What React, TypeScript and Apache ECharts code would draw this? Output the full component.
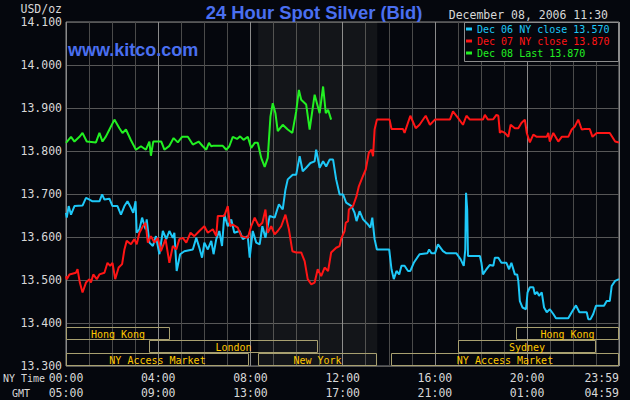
import React, { useEffect, useRef } from "react";
import * as echarts from "echarts";

// ---- data (minutes after 00:00 NY time, USD/oz) ----
const cyanName = "Dec 06 NY close 13.570";
const redName = "Dec 07 NY close 13.870";
const greenName = "Dec 08 Last 13.870";

const cyanTimes = [0,2,7,13,22,43,52,61,69,87,94,100,113,121,134,143,152,160,169,175,181,184,191,198,207,210,217,226,234,243,252,261,269,278,282,288,297,308,330,339,347,354,360,369,378,384,391,399,406,412,421,430,438,452,460,473,478,486,495,504,511,519,530,543,554,564,571,577,590,599,608,616,625,636,647,651,660,669,677,686,695,703,712,721,729,743,751,756,764,773,786,792,797,803,809,841,847,853,860,867,873,881,890,896,905,920,940,945,951,960,968,981,990,1016,1027,1035,1039,1041,1044,1046,1077,1081,1085,1094,1103,1112,1116,1125,1133,1146,1153,1159,1168,1174,1177,1181,1188,1197,1201,1207,1216,1220,1226,1231,1238,1244,1251,1259,1268,1275,1307,1316,1327,1336,1355,1359,1365,1372,1379,1400,1407,1415,1420,1429,1439];
const cyanValues = [13.656,13.645,13.672,13.652,13.672,13.673,13.691,13.687,13.683,13.683,13.699,13.687,13.689,13.672,13.672,13.652,13.672,13.683,13.668,13.656,13.683,13.610,13.618,13.645,13.618,13.641,13.587,13.579,13.602,13.560,13.614,13.595,13.614,13.598,13.610,13.521,13.560,13.567,13.571,13.598,13.575,13.552,13.587,13.571,13.591,13.560,13.595,13.614,13.579,13.652,13.625,13.641,13.610,13.614,13.595,13.602,13.552,13.614,13.587,13.583,13.625,13.598,13.649,13.645,13.676,13.664,13.710,13.734,13.745,13.745,13.788,13.753,13.761,13.772,13.776,13.803,13.761,13.776,13.764,13.780,13.780,13.734,13.699,13.699,13.680,13.672,13.656,13.637,13.660,13.641,13.629,13.622,13.645,13.595,13.571,13.571,13.525,13.502,13.521,13.513,13.533,13.533,13.521,13.521,13.540,13.560,13.562,13.571,13.562,13.562,13.583,13.567,13.562,13.562,13.548,13.533,13.571,13.703,13.664,13.556,13.556,13.540,13.513,13.525,13.535,13.533,13.552,13.552,13.540,13.540,13.525,13.540,13.513,13.513,13.498,13.451,13.436,13.432,13.471,13.483,13.483,13.467,13.472,13.463,13.471,13.436,13.425,13.432,13.421,13.411,13.411,13.425,13.441,13.425,13.425,13.409,13.409,13.421,13.440,13.440,13.451,13.451,13.486,13.498,13.502];

const redTimes = [0,2,9,26,30,36,43,52,61,65,71,80,87,100,108,115,121,128,137,146,152,158,169,178,184,191,200,207,213,221,230,239,247,259,269,278,287,295,304,313,324,334,347,360,369,382,391,395,412,421,427,434,447,456,473,482,491,502,511,519,525,534,543,551,560,571,580,589,599,612,621,629,638,647,655,664,673,682,690,703,712,716,719,725,728,734,736,747,756,762,771,780,788,795,799,803,809,842,847,877,881,896,910,920,936,947,960,999,1007,1020,1033,1042,1051,1085,1090,1098,1112,1120,1125,1129,1133,1142,1151,1157,1168,1177,1185,1194,1199,1207,1216,1225,1251,1255,1259,1268,1281,1290,1307,1316,1324,1333,1342,1350,1363,1370,1381,1389,1415,1429,1439];
const redValues = [13.509,13.502,13.513,13.517,13.525,13.494,13.471,13.494,13.502,13.494,13.513,13.502,13.513,13.517,13.540,13.533,13.540,13.502,13.529,13.537,13.571,13.591,13.583,13.595,13.583,13.610,13.625,13.633,13.587,13.602,13.587,13.598,13.567,13.595,13.540,13.579,13.571,13.595,13.598,13.587,13.610,13.602,13.614,13.625,13.610,13.618,13.602,13.649,13.649,13.672,13.625,13.629,13.622,13.602,13.598,13.625,13.645,13.625,13.633,13.664,13.610,13.625,13.606,13.614,13.625,13.652,13.618,13.567,13.564,13.564,13.544,13.502,13.490,13.494,13.525,13.509,13.529,13.521,13.564,13.575,13.579,13.595,13.602,13.614,13.633,13.637,13.664,13.672,13.695,13.718,13.738,13.757,13.796,13.803,13.788,13.850,13.873,13.873,13.851,13.851,13.842,13.882,13.853,13.861,13.882,13.861,13.873,13.873,13.892,13.877,13.861,13.882,13.873,13.873,13.884,13.873,13.874,13.884,13.882,13.842,13.846,13.842,13.833,13.861,13.853,13.853,13.865,13.873,13.842,13.820,13.838,13.833,13.833,13.842,13.822,13.842,13.822,13.833,13.833,13.850,13.857,13.873,13.850,13.851,13.851,13.833,13.842,13.842,13.842,13.822,13.820];

const greenTimes = [0,13,22,35,43,54,78,87,95,104,113,126,139,147,156,169,182,195,208,217,221,227,248,256,269,280,291,302,317,330,345,356,365,372,378,382,408,417,425,434,445,453,462,473,482,491,499,508,517,525,532,538,545,551,564,577,589,599,606,612,625,634,647,660,669,676,682,690];
const greenValues = [13.819,13.833,13.822,13.833,13.842,13.822,13.820,13.842,13.822,13.834,13.850,13.873,13.853,13.842,13.850,13.825,13.803,13.811,13.803,13.822,13.789,13.822,13.822,13.803,13.812,13.830,13.820,13.833,13.833,13.815,13.822,13.811,13.803,13.819,13.811,13.812,13.812,13.803,13.811,13.833,13.828,13.834,13.826,13.833,13.807,13.819,13.819,13.784,13.763,13.784,13.880,13.911,13.888,13.846,13.861,13.850,13.842,13.892,13.942,13.919,13.908,13.850,13.931,13.888,13.950,13.888,13.896,13.873];

// axis ticks
const tickMinutes = [0, 240, 480, 720, 960, 1200, 1439];
const nyTimeLabels = ["00:00", "04:00", "08:00", "12:00", "16:00", "20:00", "23:59"];
const gmtLabels = ["05:00", "09:00", "13:00", "17:00", "21:00", "01:00", "04:59"];

// trading sessions (row 0 = bottom)
const sessionNames = ["Hong Kong", "Hong Kong", "London", "Sydney", "NY Access Market", "New York", "NY Access Market"];
const sessionStart = [0, 1170, 215, 1020, 0, 500, 845];
const sessionEnd = [270, 1439, 656, 1380, 476, 810, 1439];
const sessionRow = [2, 2, 1, 1, 0, 0, 0];

const nyOpen = 500;
const nyClose = 810;

const BG = "#05070d";
const MONO = '"DejaVu Sans Mono", monospace';
const CYAN = "#1ec8f8";
const RED = "#ff1515";
const GREEN = "#22f022";

export default function App() {
  const ref = useRef<HTMLDivElement>(null);
  useEffect(() => {
    const chart = echarts.init(ref.current!, null, { renderer: "svg" });
    const zip = (t: number[], v: number[]) => t.map((m, i) => [m, v[i]]);
    const lineSeries = (name: string, color: string, t: number[], v: number[], extra: any = {}) => ({
      name,
      type: "line",
      xAxisIndex: 0,
      data: zip(t, v),
      symbol: "none",
      lineStyle: { color, width: 2 },
      itemStyle: { color },
      z: 3,
      silent: true,
      ...extra,
    });
    chart.setOption({
      animation: false,
      backgroundColor: BG,
      grid: { left: 66, right: 11, top: 22, bottom: 33, show: true, borderColor: "#8c8c8c", borderWidth: 1 },
      xAxis: [
        {
          type: "value", min: 0, max: 1439, interval: 60,
          axisLine: { show: false }, axisTick: { show: false }, axisLabel: { show: false },
          splitLine: { show: true, lineStyle: { color: "#4a4a4a", width: 1 } },
        },
        {
          type: "value", min: 0, max: 1439, interval: 240, position: "bottom",
          axisLine: { show: false }, axisTick: { show: false },
          splitLine: { show: true, lineStyle: { color: "#8a8a8a", width: 1 } },
          axisLabel: {
            color: "#d8d8d8", fontFamily: MONO, fontSize: 11.5, lineHeight: 15, margin: 4,
            showMaxLabel: true, alignMaxLabel: "right",
            formatter: (v: number) => {
              const i = tickMinutes.indexOf(Math.round(v));
              return i < 0 ? "" : nyTimeLabels[i] + "\n" + gmtLabels[i];
            },
          },
        },
      ],
      yAxis: {
        type: "value", min: 13.3, max: 14.1, interval: 0.1,
        axisLine: { show: false }, axisTick: { show: false },
        splitLine: { lineStyle: { color: "#575757", width: 1 } },
        axisLabel: { color: "#d8d8d8", fontFamily: MONO, fontSize: 11.5, margin: 4, formatter: (v: number) => v.toFixed(3) },
      },
      legend: {
        orient: "vertical", left: 466, top: 23, padding: 0, itemGap: 0,
        itemWidth: 6, itemHeight: 3, icon: "rect", selectedMode: false, z: 20,
        textStyle: { fontFamily: MONO, fontSize: 10, lineHeight: 12 },
        data: [
          { name: cyanName, textStyle: { color: CYAN } },
          { name: redName, textStyle: { color: RED } },
          { name: greenName, textStyle: { color: GREEN } },
        ],
      },
      graphic: [
        { type: "rect", z: 15, shape: { x: 464.5, y: 22.5, width: 154, height: 39 }, style: { fill: BG, stroke: "#8c8c8c", lineWidth: 1 } },
        { type: "text", x: 314, y: 12, style: { text: "24 Hour Spot Silver (Bid)", fill: "#4a6ff0", font: 'bold 18.4px "Liberation Sans", Arial, sans-serif', align: "center", verticalAlign: "middle" } },
        { type: "text", x: 68, y: 50, z: 10, style: { text: "www.kitco.com", fill: "#4a6ff0", font: 'bold 18px "Liberation Sans", Arial, sans-serif', align: "left", verticalAlign: "middle" } },
        { type: "text", x: 62, y: 8.5, style: { text: "USD/oz", fill: "#d8d8d8", font: "11.5px " + MONO, align: "right", verticalAlign: "middle" } },
        { type: "text", x: 608, y: 14.5, style: { text: "December 08, 2006 11:30", fill: "#d8d8d8", font: "11.5px " + MONO, align: "right", verticalAlign: "middle" } },
        { type: "text", x: 3, y: 378.5, style: { text: "NY Time", fill: "#d8d8d8", font: "10px " + MONO, align: "left", verticalAlign: "middle" } },
        { type: "text", x: 12, y: 393.5, style: { text: "GMT", fill: "#d8d8d8", font: "10px " + MONO, align: "left", verticalAlign: "middle" } },
      ],
      series: [
        lineSeries(cyanName, CYAN, cyanTimes, cyanValues),
        lineSeries(redName, RED, redTimes, redValues, {
          markArea: {
            silent: true,
            itemStyle: { color: "rgba(205,200,170,0.075)" },
            data: [[{ xAxis: nyOpen }, { xAxis: nyClose }]],
          },
        }),
        lineSeries(greenName, GREEN, greenTimes, greenValues),
        {
          type: "custom",
          xAxisIndex: 0,
          silent: true,
          z: 5,
          encode: { x: [0, 1] },
          data: sessionStart.map((s, i) => [s, sessionEnd[i], sessionRow[i]]),
          renderItem: (params: any, api: any) => {
            const s = api.coord([api.value(0), 13.3]);
            const e = api.coord([api.value(1), 13.3]);
            const row = api.value(2);
            const top = Math.round(s[1] - (row + 1) * 13);
            const x0 = Math.round(s[0]) + 0.5;
            const x1 = Math.round(e[0]) - 0.5;
            return {
              type: "group",
              children: [
                { type: "rect", shape: { x: x0, y: top + 0.5, width: x1 - x0, height: 12 }, style: { fill: "none", stroke: "#a8a070", lineWidth: 1 } },
                { type: "text", style: { text: sessionNames[params.dataIndex], x: (x0 + x1) / 2, y: top + 7, align: "center", verticalAlign: "middle", fill: "#ffc800", font: "10px " + MONO } },
              ],
            };
          },
        },
      ],
    });
    return () => chart.dispose();
  }, []);
  return <div ref={ref} style={{ position: "absolute", left: 0, top: 0, width: 630, height: 400 }} />;
}
